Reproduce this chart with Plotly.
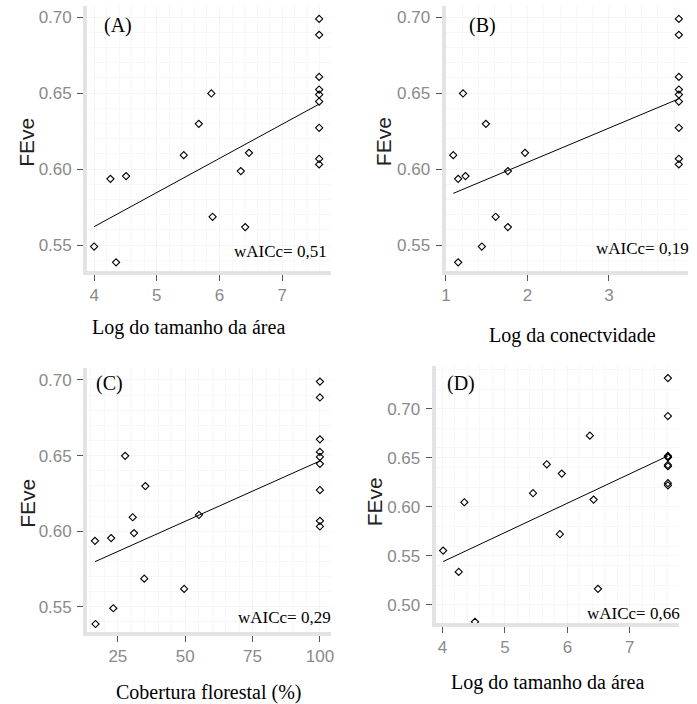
import plotly.graph_objects as go

W, H = 697, 704

# ---- data ----
feve = [0.549, 0.5386, 0.5936, 0.5954, 0.6092, 0.6298, 0.6498, 0.5686, 0.5987, 0.6107, 0.5618,
        0.6989, 0.6884, 0.6607, 0.6524, 0.6491, 0.6445, 0.6272, 0.6068, 0.6031]
log_area = [4.00, 4.35, 4.26, 4.51, 5.43, 5.67, 5.87, 5.89, 6.34, 6.47, 6.41,
            7.59, 7.59, 7.59, 7.59, 7.59, 7.59, 7.59, 7.59, 7.59]
log_conect = [1.44, 1.15, 1.15, 1.24, 1.09, 1.49, 1.21, 1.61, 1.76, 1.97, 1.76,
              3.857, 3.857, 3.857, 3.857, 3.857, 3.857, 3.857, 3.857, 3.857]
cobertura = [23.3, 16.7, 16.5, 22.5, 30.5, 35.2, 27.7, 34.8, 31.0, 55.1, 49.6,
             100, 100, 100, 100, 100, 100, 100, 100, 100]
log_area_d = [4.01, 4.26, 4.35, 4.52, 5.45, 5.67, 5.88, 5.91, 6.36, 6.42, 6.49,
              7.61, 7.61, 7.61, 7.61, 7.61, 7.61, 7.61, 7.61, 7.61]
feve_d = [0.5553, 0.5336, 0.6046, 0.4827, 0.6138, 0.6433, 0.572, 0.6338, 0.6725, 0.6073, 0.5163,
          0.7312, 0.6925, 0.6518, 0.6504, 0.6510, 0.6426, 0.6413, 0.6240, 0.6219]

# fitted lines (endpoints)
fit_a_x, fit_a_y = [4.00, 7.59], [0.5621, 0.6428]
fit_b_x, fit_b_y = [1.09, 3.857], [0.584, 0.6463]
fit_c_x, fit_c_y = [16.5, 100], [0.5798, 0.6464]
fit_d_x, fit_d_y = [4.01, 7.61], [0.5441, 0.6518]

labels = ["(A)", "(B)", "(C)", "(D)"]
waicc = ["wAICc= 0,51", "wAICc= 0,19", "wAICc= 0,29", "wAICc= 0,66"]
xtitles = ["Log do tamanho da área", "Log da conectvidade",
           "Cobertura florestal (%)", "Log do tamanho da área"]
ytitle = "FEve"

xticks_a = [4, 5, 6, 7]
xticks_b = [1, 2, 3]
xticks_c = [25, 50, 75, 100]
yticks_abc = [0.55, 0.60, 0.65, 0.70]
yticks_d = [0.50, 0.55, 0.60, 0.65, 0.70]

panels = [
    dict(x=log_area, y=feve, fx=fit_a_x, fy=fit_a_y, xt=xticks_a, yt=yticks_abc,
         px=(84, 330), py=(6, 271), xr=[3.889, 7.774], yr=[0.5329, 0.7074],
         lab=(115, 25), w=(328, 252), xtt=(186, 328), ytt=(23, 142)),
    dict(x=log_conect, y=feve, fx=fit_b_x, fy=fit_b_y, xt=xticks_b, yt=yticks_abc,
         px=(446, 691), py=(6, 271), xr=[0.995, 3.97], yr=[0.5329, 0.7074],
         lab=(483, 25), w=(694, 248), xtt=(574, 335), ytt=(384, 142)),
    dict(x=cobertura, y=feve, fx=fit_c_x, fy=fit_c_y, xt=xticks_c, yt=yticks_abc,
         px=(84, 330), py=(368, 632), xr=[13.6, 104.0], yr=[0.5333, 0.7079],
         lab=(107, 383), w=(332, 617), xtt=(207, 692), ytt=(23, 503)),
    dict(x=log_area_d, y=feve_d, fx=fit_d_x, fy=fit_d_y, xt=xticks_a, yt=yticks_d,
         px=(436, 682), py=(366, 623), xr=[3.89, 7.79], yr=[0.4815, 0.7435],
         lab=(462, 383), w=(685, 613), xtt=(549, 682), ytt=(375, 502)),
]

fig = go.Figure()
layout = dict(width=W, height=H, margin=dict(l=0, r=0, t=0, b=0), autosize=False,
              paper_bgcolor="white", plot_bgcolor="white", showlegend=False,
              annotations=[])

tickfont = dict(family="Liberation Sans, Arial, sans-serif", size=17, color="#8a8a8a")
serif = "Liberation Serif, Times New Roman, serif"

for i, p in enumerate(panels):
    n = "" if i == 0 else str(i + 1)
    xa, ya = "x" + n, "y" + n
    fig.add_trace(go.Scatter(x=p["fx"], y=p["fy"], mode="lines",
                             line=dict(color="black", width=1), xaxis=xa, yaxis=ya,
                             hoverinfo="skip"))
    fig.add_trace(go.Scatter(x=p["x"], y=p["y"], mode="markers",
                             marker=dict(symbol="diamond-open", size=5.5, color="black",
                                         line=dict(width=1.1, color="black")),
                             xaxis=xa, yaxis=ya))
    common = dict(showline=True, linecolor="#e3e3e3", linewidth=4,
                  ticks="outside", ticklen=6, tickwidth=1, tickcolor="#555555",
                  tickfont=tickfont, showgrid=True, gridcolor="#f5f5f5", gridwidth=1,
                  zeroline=False, fixedrange=True,
                  minor=dict(showgrid=True, gridcolor="#f7f7f7", gridwidth=1, ticks=""))
    layout["xaxis" + n] = dict(common, domain=[p["px"][0] / W, p["px"][1] / W],
                               range=p["xr"], tickvals=p["xt"], anchor=ya)
    layout["yaxis" + n] = dict(common, domain=[1 - p["py"][1] / H, 1 - p["py"][0] / H],
                               range=p["yr"], tickvals=p["yt"], tickformat=".2f",
                               anchor=xa, ticklabelstandoff=2)
    ann = layout["annotations"]
    ann.append(dict(text=labels[i], x=p["lab"][0] / W, y=1 - p["lab"][1] / H,
                    xref="paper", yref="paper", showarrow=False,
                    xanchor="center", yanchor="middle",
                    font=dict(family=serif, size=20, color="black")))
    ann.append(dict(text=waicc[i], x=p["w"][0] / W, y=1 - p["w"][1] / H,
                    xref="paper", yref="paper", showarrow=False,
                    xanchor="right", yanchor="middle",
                    font=dict(family=serif, size=17, color="black")))
    ann.append(dict(text=xtitles[i], x=p["xtt"][0] / W, y=1 - p["xtt"][1] / H,
                    xref="paper", yref="paper", showarrow=False,
                    xanchor="center", yanchor="middle",
                    font=dict(family=serif, size=20, color="black")))
    ann.append(dict(text=ytitle, x=p["ytt"][0] / W, y=1 - p["ytt"][1] / H,
                    xref="paper", yref="paper", showarrow=False, textangle=-90,
                    xanchor="center", yanchor="middle",
                    font=dict(family="Liberation Sans, Arial, sans-serif", size=21,
                              color="#222222")))

fig.update_layout(**layout)
fig.write_html("out.html", config={"displayModeBar": False, "staticPlot": True},
               post_script="document.body.style.margin='0';document.body.style.overflow='hidden';")
